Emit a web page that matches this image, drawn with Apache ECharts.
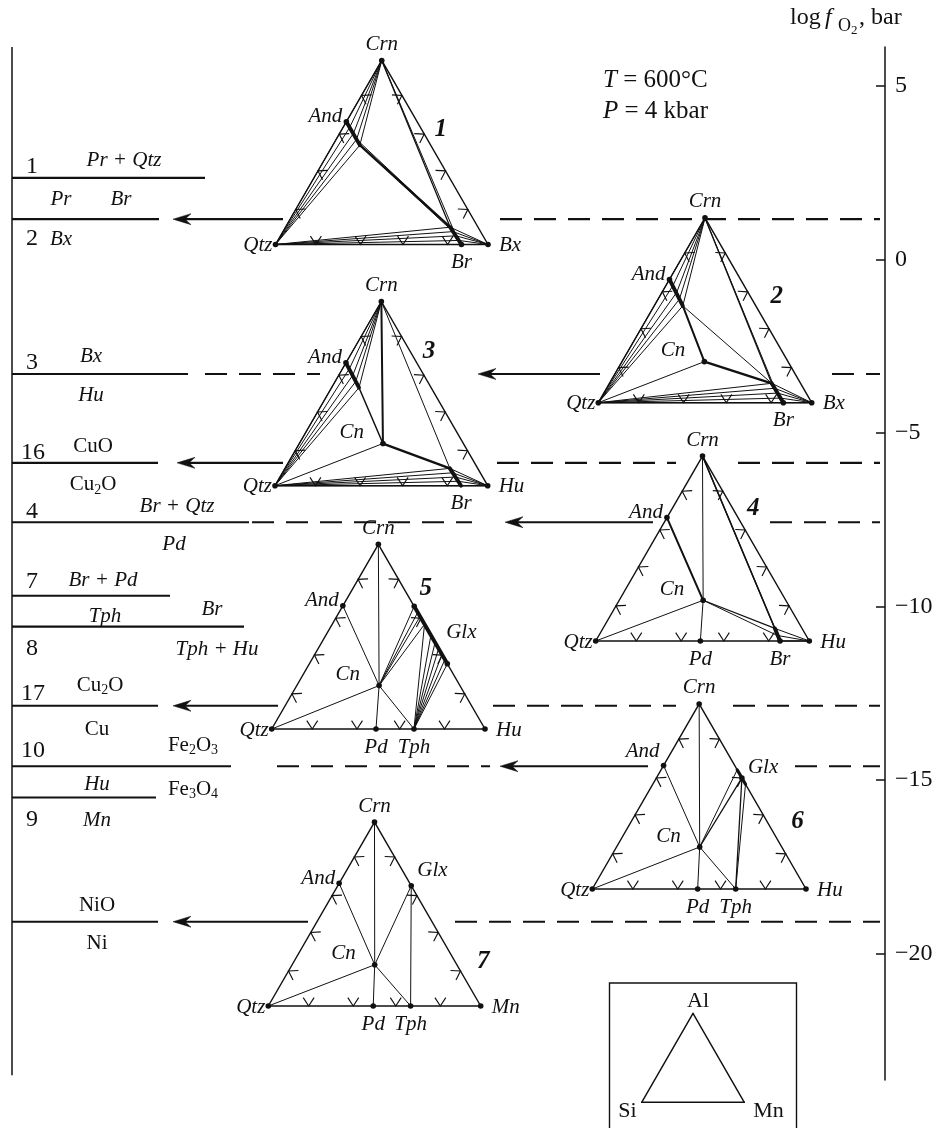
<!DOCTYPE html>
<html>
<head>
<meta charset="utf-8">
<title>log fO2 – ternary Si–Al–Mn diagrams</title>
<script src="https://cdn.jsdelivr.net/npm/echarts@6.0.0/dist/echarts.min.js"></script>
<style>
html,body{margin:0;padding:0;background:#ffffff;}
#chart{width:940px;height:1130px;}
</style>
</head>
<body>
<div id="chart"></div>
<script>
// ================= DATA =================
// buffer / reaction lines: log fO2 (bar) at T = 600 °C, P = 4 kbar
const reactionIds    = ['1', '2', '3', '16', '4', '7', '8', '17', '10', '9', 'NNO'];
const reactionLogfO2 = [2.35, 1.16, -3.30, -5.86, -7.57, -9.69, -10.58, -12.86, -14.60, -15.50, -19.08];
const axisTickValues = [5, 0, -5, -10, -15, -20];
const axisRange      = [-23.64, 6.12];

// phase compositions as cation fractions [Al, Mn]  (Si = 1 - Al - Mn)
const compQtz = [0, 0];
const compCrn = [1, 0];
const compMnCorner = [0, 1];          // Bx / Hu / Mn corner
const compAnd = [0.667, 0];
const compBr  = [0, 0.875];

// diagram 1
const d1AndSS = [[0.667, 0], [0.636, 0.031], [0.603, 0.065], [0.571, 0.096], [0.540, 0.127]];
const d1BrSS  = [[0, 0.875], [0.022, 0.853], [0.047, 0.826], [0.070, 0.800], [0.094, 0.775]];
// diagram 2
const d2AndSS = [[0.667, 0], [0.633, 0.033], [0.597, 0.069], [0.560, 0.100], [0.524, 0.134]];
const d2Cn    = [0.222, 0.386];
const d2BrSS  = [[0, 0.867], [0.025, 0.842], [0.052, 0.814], [0.078, 0.788], [0.105, 0.760]];
// diagram 3
const d3AndSS = [[0.667, 0], [0.636, 0.032], [0.600, 0.066], [0.565, 0.097], [0.532, 0.129]];
const d3Cn    = [0.229, 0.393];
const d3BrSS  = [[0, 0.875], [0.024, 0.850], [0.047, 0.825], [0.070, 0.800], [0.094, 0.775]];
// diagram 4
const d4Cn    = [0.220, 0.393];
const d4Pd    = [0, 0.490];
const d4BrSS  = [[0, 0.863], [0.030, 0.835], [0.068, 0.805]];
// diagram 5
const d5Cn    = [0.235, 0.386];
const d5Pd    = [0, 0.489];
const d5Tph   = [0, 0.667];
const d5GlxAl = [0.664, 0.631, 0.609, 0.567, 0.507, 0.468, 0.435, 0.404, 0.376, 0.353];
// diagram 6
const d6Cn    = [0.227, 0.389];
const d6Pd    = [0, 0.493];
const d6Tph   = [0, 0.671];
const d6GlxAl = [0.644, 0.600, 0.566];
// diagram 7
const d7Cn    = [0.224, 0.389];
const d7Pd    = [0, 0.494];
const d7Tph   = [0, 0.670];
const d7Glx   = [0.654, 0.346];

// ================= LAYOUT / STYLE =================
const INK = '#111111';
const SERIF = '"Liberation Serif","Times New Roman",serif';
const SQ = Math.sqrt(3) / 2;

// Qtz (Si) corner position and side length of each sub-diagram (layout units = px)
const layout = [
  {x: 275.5, y: 244.5, s: 212.5, num: [440.8, 130]},
  {x: 598.3, y: 402.7, s: 213.4, num: [776.7, 296.7]},
  {x: 275.0, y: 485.7, s: 212.7, num: [429, 351.7]},
  {x: 595.7, y: 641.0, s: 213.6, num: [753.3, 508.3]},
  {x: 271.7, y: 729.0, s: 213.3, num: [425.8, 589]},
  {x: 592.3, y: 889.0, s: 213.7, num: [797.5, 821.7]},
  {x: 268.3, y: 1006.0, s: 212.4, num: [483.3, 961.7]},
  {x: 641.7, y: 1102.3, s: 102.6}            // inset Si–Al–Mn
];
function tern(d, c) {
  const L = layout[d];
  return [L.x + L.s * (c[1] + c[0] / 2), L.y - L.s * SQ * c[0]];
}

// horizontal reaction-line pieces along each log fO2 level (x in layout px)
const lineLayout = [
  [['solid', 12, 205]],
  [['solid', 12, 159], ['arrow', 283, 173], ['dash', 500, 880]],
  [['solid', 12, 188], ['dash', 205, 320], ['arrow', 600, 478], ['dash', 832, 880]],
  [['solid', 12, 158], ['arrow', 283, 177], ['dash', 497, 676], ['dash', 738, 880]],
  [['solid', 12, 249], ['dash', 252, 472], ['arrow', 653, 505], ['dash', 770, 880]],
  [['solid', 12, 170]],
  [['solid', 12, 244]],
  [['solid', 12, 158], ['arrow', 278, 173], ['dash', 493, 676], ['dash', 733, 880]],
  [['solid', 12, 231], ['dash', 277, 490], ['arrow', 648, 500], ['dash', 795, 880]],
  [['solid', 12, 156]],
  [['solid', 12, 158], ['arrow', 308, 173], ['dash', 455, 880]]
];
const reactionPieces = [];
lineLayout.forEach((list, r) => list.forEach(p => reactionPieces.push({r, k: p[0], x1: p[1], x2: p[2]})));

// labels next to the reaction lines: [text, x, reaction index, dy(px), class]
const leftLabels = [
  ['1', 32, 0, -11, 'num'], ['Pr + Qtz', 124, 0, -17, 'it'], ['Pr', 61, 0, 22, 'it'], ['Br', 121, 0, 22, 'it'],
  ['2', 32, 1, 20, 'num'], ['Bx', 61, 1, 20, 'it'],
  ['3', 32, 2, -11, 'num'], ['Bx', 91, 2, -17, 'it'], ['Hu', 91, 2, 22, 'it'],
  ['16', 33, 3, -10, 'num'], ['CuO', 93, 3, -16, 'rm'], ['{a|Cu}{s|2}{a|O}', 93, 3, 22, 'rm'],
  ['4', 32, 4, -10, 'num'], ['Br + Qtz', 177, 4, -16, 'it'], ['Pd', 174, 4, 22, 'it'],
  ['7', 32, 5, -14, 'num'], ['Br + Pd', 103, 5, -15, 'it'], ['Tph', 105, 5, 21, 'it'],
  ['Br', 212, 6, -17, 'it'], ['8', 32, 6, 22, 'num'], ['Tph + Hu', 217, 6, 23, 'it'],
  ['17', 33, 7, -12, 'num'], ['{a|Cu}{s|2}{a|O}', 100, 7, -20, 'rm'], ['Cu', 97, 7, 24, 'rm'],
  ['10', 33, 8, -16, 'num'], ['{a|Fe}{s|2}{a|O}{s|3}', 193, 8, -21, 'rm'], ['Hu', 97, 8, 18, 'it'], ['{a|Fe}{s|3}{a|O}{s|4}', 193, 8, 23, 'rm'],
  ['9', 32, 9, 22, 'num'], ['Mn', 97, 9, 23, 'it'],
  ['NiO', 97, 10, -16, 'rm'], ['Ni', 97, 10, 22, 'rm']
];

// ================= BUILD TRIANGLE GEOMETRY =================
const W = {thin: 1, mid: 2, thick: 3.9, edge: 1.45};
const segs = [];
function S(d, a, b, w) { segs.push({d, a, b, w: w || W.thin}); }
function fan(d, a, list, w) { list.forEach(b => S(d, a, b, w)); }
function edges(d) { S(d, compCrn, compQtz, W.edge); S(d, compQtz, compMnCorner, W.edge); S(d, compCrn, compMnCorner, W.edge); }
const glx = al => [al, 1 - al];

// 1
edges(0);
fan(0, compCrn, d1AndSS); fan(0, compQtz, d1AndSS);
S(0, d1AndSS[4], d1BrSS[4], 2.4); S(0, d1AndSS[3], d1BrSS[4]); S(0, d1AndSS[4], d1BrSS[3]);
S(0, compCrn, d1BrSS[4], 1.3); S(0, compCrn, d1BrSS[2]);
fan(0, compQtz, d1BrSS); fan(0, compMnCorner, d1BrSS);
S(0, d1AndSS[0], d1AndSS[4], W.thick); S(0, d1BrSS[0], d1BrSS[4], W.thick);
// 2
edges(1);
fan(1, compCrn, d2AndSS); fan(1, compQtz, d2AndSS);
S(1, d2AndSS[4], d2Cn, W.mid); S(1, d2AndSS[4], d2BrSS[4]); S(1, d2Cn, d2BrSS[4], 2.4); S(1, d2Cn, compQtz);
S(1, compCrn, d2BrSS[4], 1.3); S(1, compCrn, d2BrSS[3]);
fan(1, compQtz, d2BrSS); fan(1, compMnCorner, d2BrSS);
S(1, d2AndSS[0], d2AndSS[4], W.thick); S(1, d2BrSS[0], d2BrSS[4], W.thick);
// 3
edges(2);
fan(2, compCrn, d3AndSS); fan(2, compQtz, d3AndSS);
S(2, d3AndSS[4], d3Cn, 1.5); S(2, compCrn, d3Cn, W.mid); S(2, d3Cn, compQtz); S(2, d3Cn, d3BrSS[4], 2.4);
S(2, compCrn, d3BrSS[4]);
fan(2, compQtz, d3BrSS); fan(2, compMnCorner, d3BrSS);
S(2, d3AndSS[0], d3AndSS[4], W.thick); S(2, d3BrSS[0], d3BrSS[4], W.thick);
// 4
edges(3);
S(3, compAnd, d4Cn, W.mid); S(3, compCrn, d4Cn); S(3, d4Cn, compQtz); S(3, d4Cn, d4Pd);
S(3, d4Cn, d4BrSS[2], 1.2); S(3, d4Cn, d4BrSS[1]);
S(3, compCrn, d4BrSS[2], 1.4); S(3, compCrn, d4BrSS[0], 1.4);
fan(3, compMnCorner, d4BrSS);
S(3, d4BrSS[0], d4BrSS[2], W.thick);
// 5
edges(4);
S(4, compCrn, d5Cn); S(4, d5Cn, d5Pd); S(4, compAnd, d5Cn); S(4, d5Cn, compQtz); S(4, d5Cn, d5Tph);
fan(4, d5Cn, d5GlxAl.slice(0, 4).map(glx));
fan(4, d5Tph, d5GlxAl.slice(3).map(glx));
S(4, glx(d5GlxAl[0]), glx(d5GlxAl[9]), W.thick);
// 6
edges(5);
S(5, compCrn, d6Cn); S(5, d6Cn, d6Pd); S(5, compAnd, d6Cn); S(5, d6Cn, d6Tph); S(5, d6Cn, compQtz);
S(5, d6Cn, glx(d6GlxAl[0])); S(5, d6Cn, glx(d6GlxAl[1]), 1.3);
S(5, d6Tph, glx(d6GlxAl[1]), 1.3); S(5, d6Tph, glx(d6GlxAl[2]));
S(5, glx(d6GlxAl[0]), glx(d6GlxAl[2]), 3.2);
// 7
edges(6);
S(6, compCrn, d7Cn); S(6, d7Cn, d7Pd); S(6, compAnd, d7Cn); S(6, d7Cn, d7Tph); S(6, d7Cn, compQtz);
S(6, d7Cn, d7Glx); S(6, d7Glx, d7Tph);
// inset
edges(7);

// edge chevrons (outward pointing) at fractions along each edge
const chevronFractions = [0.19, 0.40, 0.60, 0.81];
const chevrons = [];
for (let d = 0; d < 7; d++) {
  [[compCrn, compQtz], [compQtz, compMnCorner], [compCrn, compMnCorner]].forEach(e => {
    chevronFractions.forEach(f => chevrons.push({d, a: e[0], b: e[1], f}));
  });
}

// dots
const dots = [];
function D(d, list) { list.forEach(c => dots.push({d, c})); }
D(0, [compCrn, compQtz, compMnCorner, compAnd, d1BrSS[0]]);
D(1, [compCrn, compQtz, compMnCorner, compAnd, d2Cn, d2BrSS[0]]);
D(2, [compCrn, compQtz, compMnCorner, compAnd, d3Cn]);
D(3, [compCrn, compQtz, compMnCorner, compAnd, d4Cn, d4Pd, d4BrSS[0]]);
D(4, [compCrn, compQtz, compMnCorner, compAnd, d5Cn, d5Pd, d5Tph, glx(d5GlxAl[0]), glx(d5GlxAl[9])]);
D(5, [compCrn, compQtz, compMnCorner, compAnd, d6Cn, d6Pd, d6Tph, glx(0.60)]);
D(6, [compCrn, compQtz, compMnCorner, compAnd, d7Glx, d7Cn, d7Pd, d7Tph]);

// phase labels: [diagram, comp, text, kind, dx?, dy?]
const kinds = {
  top:   {dx: 0,   dy: -16, align: 'center'},
  and:   {dx: -4,  dy: -5,  align: 'right'},
  cn:    {dx: -19, dy: -11, align: 'right'},
  qtz:   {dx: -3,  dy: 1,   align: 'right'},
  right: {dx: 11,  dy: 1,   align: 'left'},
  base:  {dx: 0,   dy: 18,  align: 'center'},
  glx:   {dx: 6,   dy: -12, align: 'left'}
};
const phaseLabels = [
  [0, compCrn, 'Crn', 'top'], [0, compAnd, 'And', 'and'], [0, compQtz, 'Qtz', 'qtz'], [0, compMnCorner, 'Bx', 'right'], [0, compBr, 'Br', 'base'],
  [1, compCrn, 'Crn', 'top'], [1, compAnd, 'And', 'and'], [1, d2Cn, 'Cn', 'cn'], [1, compQtz, 'Qtz', 'qtz'], [1, compMnCorner, 'Bx', 'right'], [1, d2BrSS[0], 'Br', 'base'],
  [2, compCrn, 'Crn', 'top'], [2, compAnd, 'And', 'and'], [2, d3Cn, 'Cn', 'cn'], [2, compQtz, 'Qtz', 'qtz'], [2, compMnCorner, 'Hu', 'right'], [2, compBr, 'Br', 'base'],
  [3, compCrn, 'Crn', 'top'], [3, compAnd, 'And', 'and'], [3, d4Cn, 'Cn', 'cn'], [3, compQtz, 'Qtz', 'qtz'], [3, compMnCorner, 'Hu', 'right'], [3, d4Pd, 'Pd', 'base'], [3, d4BrSS[0], 'Br', 'base'],
  [4, compCrn, 'Crn', 'top'], [4, compAnd, 'And', 'and'], [4, d5Cn, 'Cn', 'cn'], [4, glx(d5GlxAl[0]), 'Glx', 'glx', 32, 26], [4, compQtz, 'Qtz', 'qtz'], [4, compMnCorner, 'Hu', 'right'], [4, d5Pd, 'Pd', 'base'], [4, d5Tph, 'Tph', 'base'],
  [5, compCrn, 'Crn', 'top'], [5, compAnd, 'And', 'and', -4, -14], [5, glx(0.60), 'Glx', 'glx', 6, -10], [5, d6Cn, 'Cn', 'cn'], [5, compQtz, 'Qtz', 'qtz'], [5, compMnCorner, 'Hu', 'right'], [5, d6Pd, 'Pd', 'base'], [5, d6Tph, 'Tph', 'base'],
  [6, compCrn, 'Crn', 'top'], [6, compAnd, 'And', 'and'], [6, d7Glx, 'Glx', 'glx', 6, -15], [6, d7Cn, 'Cn', 'cn'], [6, compQtz, 'Qtz', 'qtz'], [6, compMnCorner, 'Mn', 'right'], [6, d7Pd, 'Pd', 'base'], [6, d7Tph, 'Tph', 'base']
];
const insetLabels = [[compCrn, 'Al', 5, -12, 'center'], [compQtz, 'Si', -5, 9, 'right'], [compMnCorner, 'Mn', 9, 9, 'left']];

// ================= RENDER =================
const fontIt = 'italic 21px ' + SERIF;
const fontNum = '24px ' + SERIF;
const fontRm = '21px ' + SERIF;
const richRm = {
  a: {fontSize: 21, fontFamily: SERIF, fill: INK, color: INK, lineHeight: 24},
  s: {fontSize: 14, fontFamily: SERIF, fill: INK, color: INK, lineHeight: 12, verticalAlign: 'bottom'}
};
function textEl(x, y, text, font, align, rich) {
  const st = {text, x: 0, y: 0, fill: INK, font, align, textAlign: align, verticalAlign: 'middle', textVerticalAlign: 'middle'};
  if (rich) st.rich = rich;
  return {type: 'text', x, y, style: st};
}
const base = {type: 'custom', coordinateSystem: 'cartesian2d', silent: true, clip: false, encode: {x: 0, y: 1}};

const reactionSeries = Object.assign({}, base, {
  xAxisIndex: 0, yAxisIndex: 0,
  data: reactionPieces.map(p => [p.x1, reactionLogfO2[p.r]]),
  renderItem(params, api) {
    const p = reactionPieces[params.dataIndex];
    const v = reactionLogfO2[p.r];
    const a = api.coord([p.x1, v]), b = api.coord([p.x2, v]);
    if (p.k === 'arrow') {
      const dir = Math.sign(b[0] - a[0]);
      const tx = b[0], y = b[1];
      return {type: 'group', children: [
        {type: 'line', shape: {x1: a[0], y1: y, x2: tx - dir * 11, y2: y}, style: {stroke: INK, lineWidth: 2.1, fill: null}},
        {type: 'polygon', shape: {points: [[tx, y], [tx - dir * 18, y - 5.5], [tx - dir * 12, y], [tx - dir * 18, y + 5.5]]}, style: {fill: INK, stroke: INK, lineWidth: 0.5}}
      ]};
    }
    return {type: 'line', shape: {x1: a[0], y1: a[1], x2: b[0], y2: b[1]},
      style: {stroke: INK, lineWidth: 2.1, fill: null, lineDash: p.k === 'dash' ? [22, 12] : null}};
  }
});

const frameSeries = Object.assign({}, base, {  // left border line spanning the log fO2 range
  xAxisIndex: 0, yAxisIndex: 0,
  data: [[12, axisRange[1]]],
  renderItem(params, api) {
    const a = api.coord([12, axisRange[1]]), b = api.coord([12, axisRange[0] + 0.14]);
    return {type: 'line', shape: {x1: a[0], y1: a[1], x2: b[0], y2: b[1]}, style: {stroke: INK, lineWidth: 1.5, fill: null}};
  }
});

const leftLabelSeries = Object.assign({}, base, {
  xAxisIndex: 0, yAxisIndex: 0,
  data: leftLabels.map(l => [l[1], reactionLogfO2[l[2]]]),
  renderItem(params, api) {
    const l = leftLabels[params.dataIndex];
    const p = api.coord([l[1], reactionLogfO2[l[2]]]);
    const font = l[4] === 'num' ? fontNum : (l[4] === 'it' ? fontIt : fontRm);
    return textEl(p[0], p[1] + l[3], l[0], font, 'center', l[4] === 'rm' ? richRm : null);
  }
});

const segSeries = Object.assign({}, base, {
  xAxisIndex: 1, yAxisIndex: 1,
  data: segs.map(s => tern(s.d, s.a)),
  renderItem(params, api) {
    const s = segs[params.dataIndex];
    const a = api.coord(tern(s.d, s.a)), b = api.coord(tern(s.d, s.b));
    return {type: 'line', shape: {x1: a[0], y1: a[1], x2: b[0], y2: b[1]}, style: {stroke: INK, lineWidth: s.w, fill: null, lineCap: 'round'}};
  }
});

const chevronSeries = Object.assign({}, base, {
  xAxisIndex: 1, yAxisIndex: 1,
  data: chevrons.map(c => tern(c.d, c.a)),
  renderItem(params, api) {
    const c = chevrons[params.dataIndex];
    const A = api.coord(tern(c.d, c.a)), B = api.coord(tern(c.d, c.b)), C = api.coord(tern(c.d, [1 / 3, 1 / 3]));
    const tip = [A[0] + c.f * (B[0] - A[0]), A[1] + c.f * (B[1] - A[1])];
    const len = Math.hypot(B[0] - A[0], B[1] - A[1]);
    const e = [(B[0] - A[0]) / len, (B[1] - A[1]) / len];
    let u = [-e[1], e[0]];
    if (u[0] * (C[0] - tip[0]) + u[1] * (C[1] - tip[1]) < 0) u = [-u[0], -u[1]];
    const L = 10, th = 33 * Math.PI / 180, cs = Math.cos(th), sn = Math.sin(th);
    const a1 = [tip[0] + L * (u[0] * cs - u[1] * sn), tip[1] + L * (u[0] * sn + u[1] * cs)];
    const a2 = [tip[0] + L * (u[0] * cs + u[1] * sn), tip[1] + L * (-u[0] * sn + u[1] * cs)];
    return {type: 'polyline', shape: {points: [a1, tip, a2]}, style: {stroke: INK, lineWidth: 1.15, fill: null}};
  }
});

const dotSeries = Object.assign({}, base, {
  xAxisIndex: 1, yAxisIndex: 1,
  data: dots.map(o => tern(o.d, o.c)),
  renderItem(params, api) {
    const o = dots[params.dataIndex];
    const p = api.coord(tern(o.d, o.c));
    return {type: 'circle', shape: {cx: p[0], cy: p[1], r: 2.8}, style: {fill: INK}};
  }
});

const phaseLabelSeries = Object.assign({}, base, {
  xAxisIndex: 1, yAxisIndex: 1,
  data: phaseLabels.map(l => tern(l[0], l[1])),
  renderItem(params, api) {
    const l = phaseLabels[params.dataIndex];
    const k = kinds[l[3]];
    const p = api.coord(tern(l[0], l[1]));
    const dx = l[4] !== undefined ? l[4] : k.dx, dy = l[5] !== undefined ? l[5] : k.dy;
    return textEl(p[0] + dx, p[1] + dy, l[2], fontIt, k.align);
  }
});

const numberSeries = Object.assign({}, base, {
  xAxisIndex: 1, yAxisIndex: 1,
  data: layout.slice(0, 7).map(L => L.num),
  renderItem(params, api) {
    const p = api.coord(layout[params.dataIndex].num);
    return textEl(p[0], p[1], String(params.dataIndex + 1), 'italic bold 25px ' + SERIF, 'center');
  }
});

const insetSeries = Object.assign({}, base, {
  xAxisIndex: 1, yAxisIndex: 1,
  data: insetLabels.map(l => tern(7, l[0])),
  renderItem(params, api) {
    const l = insetLabels[params.dataIndex];
    const p = api.coord(tern(7, l[0]));
    const children = [textEl(p[0] + l[2], p[1] + l[3], l[1], '22px ' + SERIF, l[4])];
    if (params.dataIndex === 0) {
      const tl = api.coord([609.5, 983]), br = api.coord([796.5, 1128]);
      children.push({type: 'polyline', shape: {points: [[tl[0], br[1]], [tl[0], tl[1]], [br[0], tl[1]], [br[0], br[1]]]},
        style: {stroke: INK, lineWidth: 1.4, fill: null}});
    }
    return {type: 'group', children};
  }
});

const chart = echarts.init(document.getElementById('chart'), null, {renderer: 'canvas'});
chart.setOption({
  animation: false,
  backgroundColor: '#ffffff',
  grid: [
    {left: 0, right: 55, top: 47, bottom: 50},
    {left: 0, right: 0, top: 0, bottom: 0}
  ],
  xAxis: [
    {type: 'value', gridIndex: 0, min: 0, max: 885, show: false},
    {type: 'value', gridIndex: 1, min: 0, max: 940, show: false}
  ],
  yAxis: [
    {
      type: 'value', gridIndex: 0, position: 'right', min: axisRange[0], max: axisRange[1],
      axisLine: {show: true, onZero: false, lineStyle: {color: INK, width: 1.5}},
      axisTick: {show: true, inside: true, length: 9, customValues: axisTickValues, lineStyle: {color: INK, width: 1.5}},
      axisLabel: {
        show: true, customValues: axisTickValues, margin: 10, color: INK, fontSize: 24, fontFamily: SERIF,
        formatter: v => (v < 0 ? '\u2212' + Math.abs(v) : String(v))
      },
      splitLine: {show: false}
    },
    {type: 'value', gridIndex: 1, min: 0, max: 1130, inverse: true, show: false}
  ],
  graphic: [
    {type: 'text', x: 790, y: 18, style: {text: 'log', font: '24px ' + SERIF, fill: INK, verticalAlign: 'middle'}},
    {type: 'text', x: 825, y: 18, style: {text: 'f', font: 'italic 24px ' + SERIF, fill: INK, verticalAlign: 'middle'}},
    {type: 'text', x: 838, y: 26, style: {text: 'O', font: '18px ' + SERIF, fill: INK, verticalAlign: 'middle'}},
    {type: 'text', x: 851, y: 31, style: {text: '2', font: '13px ' + SERIF, fill: INK, verticalAlign: 'middle'}},
    {type: 'text', x: 859, y: 18, style: {text: ', bar', font: '24px ' + SERIF, fill: INK, verticalAlign: 'middle'}},
    {type: 'text', x: 603, y: 80, style: {text: '{i|T} = 600°C', font: '25px ' + SERIF, fill: INK, verticalAlign: 'middle',
      rich: {i: {fontStyle: 'italic', fontSize: 25, fontFamily: SERIF}}}},
    {type: 'text', x: 603, y: 111, style: {text: '{i|P} = 4 kbar', font: '25px ' + SERIF, fill: INK, verticalAlign: 'middle',
      rich: {i: {fontStyle: 'italic', fontSize: 25, fontFamily: SERIF}}}}
  ],
  series: [frameSeries, reactionSeries, leftLabelSeries, segSeries, chevronSeries, dotSeries, phaseLabelSeries, numberSeries, insetSeries]
});
</script>
</body>
</html>
